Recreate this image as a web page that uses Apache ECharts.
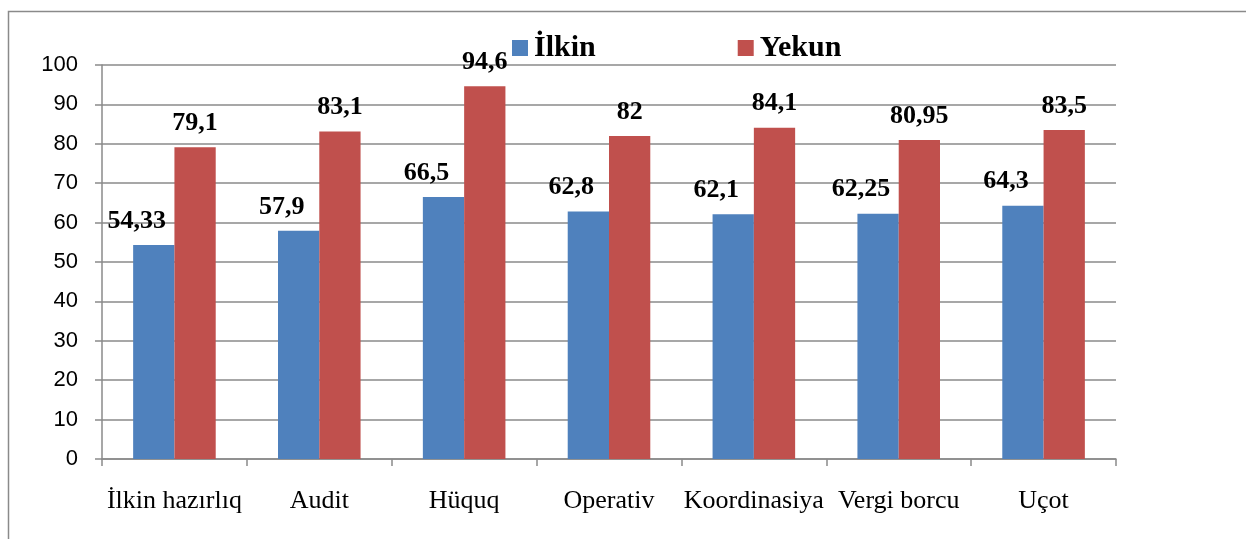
<!DOCTYPE html>
<html>
<head>
<meta charset="utf-8">
<script src="https://cdn.jsdelivr.net/npm/echarts@6/dist/echarts.min.js"></script>
<style>
html,body{margin:0;padding:0;background:#fff;}
#c{width:1246px;height:539px;}
</style>
</head>
<body>
<div id="c"></div>
<script>
const categories = ['İlkin hazırlıq', 'Audit', 'Hüquq', 'Operativ', 'Koordinasiya', 'Vergi borcu', 'Uçot'];
const seriesNames = ['İlkin', 'Yekun'];
const ilkinValues = [54.33, 57.9, 66.5, 62.8, 62.1, 62.25, 64.3];
const yekunValues = [79.1, 83.1, 94.6, 82, 84.1, 80.95, 83.5];
const yTicks = { min: 0, max: 100, interval: 10 };

const chart = echarts.init(document.getElementById('c'), null, { renderer: 'canvas' });
const grey = '#8a8a8a';
const fmt = p => String(p.value).replace('.', ',');
const labelStyle = {
  show: true,
  position: 'top',
  distance: 11,
  formatter: fmt,
  fontFamily: '"Liberation Serif", "Times New Roman", serif',
  fontWeight: 'bold',
  fontSize: 26,
  color: '#000'
};

chart.setOption({
  animation: false,
  backgroundColor: '#fff',
  graphic: [{
    type: 'rect',
    shape: { x: 8.5, y: 11.5, width: 1400, height: 700 },
    style: { fill: 'none', stroke: grey, lineWidth: 1.5 },
    silent: true
  }],
  legend: {
    data: seriesNames,
    left: 512,
    top: 33,
    padding: 0,
    itemWidth: 16,
    itemHeight: 16,
    itemGap: 142,
    icon: 'rect',
    textStyle: {
      fontFamily: '"Liberation Serif", "Times New Roman", serif',
      fontWeight: 'bold',
      fontSize: 30,
      color: '#000',
      padding: [0, 0, 0, 1]
    }
  },
  grid: { left: 102, right: 130, top: 65, bottom: 80 },
  xAxis: {
    type: 'category',
    data: categories,
    axisLine: { lineStyle: { color: grey, width: 1.5 } },
    axisTick: { show: true, length: 7, lineStyle: { color: grey, width: 1.5 } },
    axisLabel: {
      interval: 0,
      margin: 29,
      fontFamily: '"Liberation Serif", "Times New Roman", serif',
      fontSize: 26,
      color: '#000'
    }
  },
  yAxis: {
    type: 'value',
    min: yTicks.min,
    max: yTicks.max,
    interval: yTicks.interval,
    axisLine: { show: true, lineStyle: { color: grey, width: 1.5 } },
    axisTick: { show: true, length: 7, lineStyle: { color: grey, width: 1.5 } },
    splitLine: { show: true, lineStyle: { color: grey, width: 1.5 } },
    axisLabel: {
      margin: 24,
      fontFamily: '"Liberation Sans", Arial, sans-serif',
      fontSize: 22,
      color: '#000'
    }
  },
  series: [
    {
      name: seriesNames[0],
      type: 'bar',
      data: ilkinValues,
      barGap: '0%',
      barCategoryGap: '43%',
      itemStyle: { color: '#4F81BD' },
      label: Object.assign({}, labelStyle, { offset: [-17, 0] })
    },
    {
      name: seriesNames[1],
      type: 'bar',
      data: yekunValues,
      barGap: '0%',
      barCategoryGap: '43%',
      itemStyle: { color: '#C0504D' },
      label: Object.assign({}, labelStyle)
    }
  ]
});
</script>
</body>
</html>
